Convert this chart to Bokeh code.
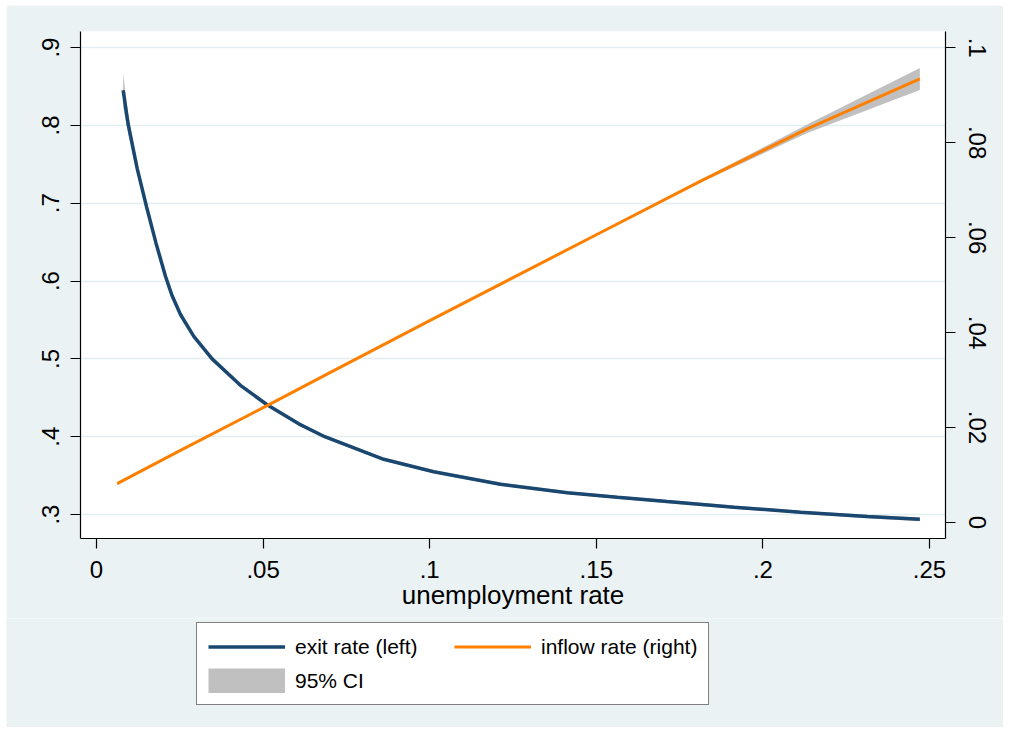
from bokeh.plotting import figure
from bokeh.layouts import column
from bokeh.models import Range1d, LinearAxis, FixedTicker, Legend, LegendItem
from bokeh.embed import file_html
from bokeh.resources import INLINE

# ---- data ----
x_ticks = [0, 0.05, 0.1, 0.15, 0.2, 0.25]
x_tick_labels = ["0", ".05", ".1", ".15", ".2", ".25"]
left_ticks = [0.3, 0.4, 0.5, 0.6, 0.7, 0.8, 0.9]
left_tick_labels = [".3", ".4", ".5", ".6", ".7", ".8", ".9"]
right_ticks = [0, 0.02, 0.04, 0.06, 0.08, 0.1]
right_tick_labels = ["0", ".02", ".04", ".06", ".08", ".1"]

exit_x = [0.008, 0.0095, 0.0122, 0.0150, 0.0178, 0.0207, 0.0227, 0.0252, 0.0292,
          0.0347, 0.0432, 0.0512, 0.0607, 0.0685, 0.0862, 0.1012, 0.1212, 0.1413,
          0.1563, 0.1713, 0.1913, 0.2113, 0.2313, 0.2471]
exit_rate = [0.845, 0.8015, 0.7448, 0.6958, 0.6496, 0.6061, 0.581, 0.557, 0.529,
             0.500, 0.466, 0.441, 0.4165, 0.400, 0.371, 0.355, 0.339, 0.328,
             0.3222, 0.3166, 0.3095, 0.3030, 0.2975, 0.2938]
exit_lo = [0.823, 0.7895, 0.7378, 0.6918, 0.6466, 0.6031, 0.578, 0.555, 0.527,
           0.498, 0.464, 0.439, 0.4147, 0.398, 0.369, 0.353, 0.337, 0.326,
           0.3202, 0.3146, 0.3075, 0.3010, 0.2953, 0.2913]
exit_hi = [0.867, 0.8135, 0.7518, 0.6998, 0.6526, 0.6091, 0.584, 0.559, 0.531,
           0.502, 0.468, 0.443, 0.4183, 0.402, 0.373, 0.357, 0.341, 0.330,
           0.3242, 0.3186, 0.3115, 0.3050, 0.2997, 0.2963]

inflow_x = [0.0062, 0.0252, 0.0512, 0.0702, 0.1, 0.15, 0.1813, 0.2133, 0.2471]
inflow_rate = [0.0082, 0.0152, 0.0246, 0.0316, 0.0425, 0.0606, 0.0719, 0.0829, 0.0934]
inflow_lo = [0.0079, 0.0150, 0.0244, 0.0314, 0.0423, 0.0604, 0.0716, 0.0820, 0.0911]
inflow_hi = [0.0085, 0.0154, 0.0248, 0.0318, 0.0427, 0.0608, 0.0722, 0.0838, 0.0957]

legend_labels = ["exit rate (left)", "inflow rate (right)", "95% CI"]

BG = "#eaf2f3"
BLUE = "#1a476f"
ORANGE = "#ff8000"
GRAY = "#c0c0c0"
FONT = "Liberation Sans"

p = figure(width=997, height=613, output_backend="svg", toolbar_location=None,
           x_range=Range1d(-0.0048, 0.2548), y_range=Range1d(0.2692, 0.9206))
p.frame_align = False
p.extra_y_ranges = {"right": Range1d(-0.00337, 0.1034)}
p.min_border_left = 74
p.min_border_right = 58
p.min_border_top = 26
p.min_border_bottom = 80
p.background_fill_color = "white"
p.border_fill_color = BG
p.outline_line_color = None

ci1 = p.varea(x=exit_x, y1=exit_lo, y2=exit_hi, fill_color=GRAY)
ci2 = p.varea(x=inflow_x, y1=inflow_lo, y2=inflow_hi, fill_color=GRAY, y_range_name="right")
l1 = p.line(exit_x, exit_rate, line_color=BLUE, line_width=3.5)
l2 = p.line(inflow_x, inflow_rate, line_color=ORANGE, line_width=3, y_range_name="right")

def style_axis(ax, ticks, labels):
    ax.ticker = FixedTicker(ticks=ticks)
    ax.major_label_overrides = {t: s for t, s in zip(ticks, labels)}
    ax.major_tick_in = 0
    ax.major_tick_out = 10
    ax.minor_tick_out = 0
    ax.minor_tick_in = 0
    ax.axis_line_color = "black"
    ax.axis_line_width = 1.2
    ax.major_tick_line_width = 1.2
    ax.major_label_text_font = FONT
    ax.major_label_text_font_size = "24px"
    ax.major_label_text_color = "black"

xa = p.xaxis[0]
style_axis(xa, x_ticks, x_tick_labels)
xa.major_label_standoff = 12
xa.axis_label = "unemployment rate"
xa.axis_label_text_font = FONT
xa.axis_label_text_font_size = "26px"
xa.axis_label_text_font_style = "normal"
xa.axis_label_text_color = "black"
xa.axis_label_standoff = -1

ya = p.yaxis[0]
style_axis(ya, left_ticks, left_tick_labels)
ya.major_label_orientation = "vertical"
ya.major_label_standoff = 11

ra = LinearAxis(y_range_name="right")
style_axis(ra, right_ticks, right_tick_labels)
ra.major_label_orientation = "vertical"
ra.major_label_standoff = 13
p.add_layout(ra, "right")

p.xgrid.visible = False
p.ygrid.ticker = FixedTicker(ticks=left_ticks)
p.ygrid.grid_line_color = "#e4edef"
p.ygrid.grid_line_width = 1.5

# ---- legend panel (below the chart); its key renderers lie outside its view ----
lf = figure(width=997, height=109, output_backend="svg", toolbar_location=None,
            x_range=Range1d(10, 11), y_range=Range1d(10, 11),
            x_axis_location=None, y_axis_location=None, min_border=0)
lf.frame_align = False
lf.xgrid.visible = False
lf.ygrid.visible = False
lf.background_fill_color = BG
lf.border_fill_color = BG
lf.outline_line_color = None
k1 = lf.line(exit_x, exit_rate, line_color=BLUE, line_width=3.5)
k2 = lf.line(inflow_x, inflow_rate, line_color=ORANGE, line_width=3)
k3 = lf.line(exit_x, exit_lo, line_color=GRAY, line_width=25)

legend = Legend(items=[
    LegendItem(label=legend_labels[0], renderers=[k1]),
    LegendItem(label=legend_labels[1], renderers=[k2]),
    LegendItem(label=legend_labels[2], renderers=[k3]),
], orientation="horizontal", ncols=2, location=(190, 22), margin=0)
legend.glyph_width = 77
legend.glyph_height = 25
legend.label_standoff = 10
legend.label_width = 150
legend.spacing = 9
legend.padding = 11
legend.label_text_font = FONT
legend.label_text_font_size = "21px"
legend.label_text_color = "black"
legend.border_line_color = "black"
legend.border_line_width = 1
legend.background_fill_color = "white"
legend.background_fill_alpha = 1
lf.add_layout(legend, "center")

layout = column(p, lf, spacing=0)
layout.margin = (5, 0, 0, 6)

open("out.html", "w").write(file_html(layout, INLINE))
